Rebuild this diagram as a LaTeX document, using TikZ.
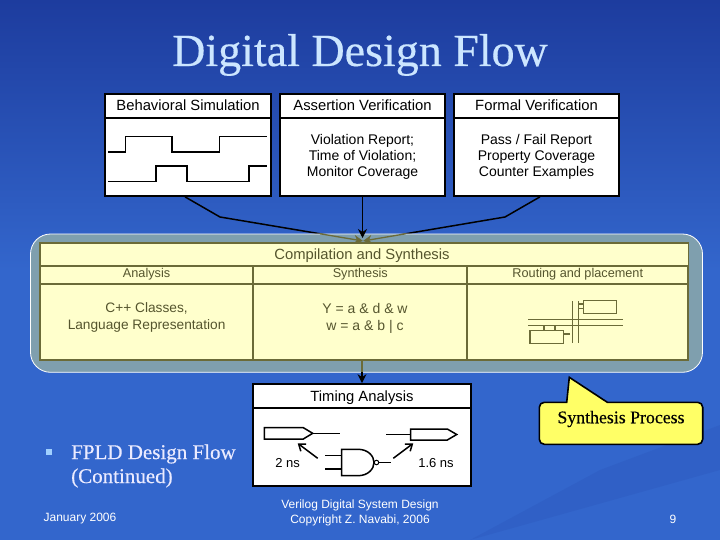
\documentclass[tikz,border=0pt]{standalone}
\usepackage{fontspec}
\setmainfont{Liberation Sans}
\newfontfamily\serifface{Liberation Serif}
\newfontfamily\boldface[FakeBold=0.35]{Liberation Serif}
\usepackage{tikz}
\usetikzlibrary{arrows.meta,calc}
\definecolor{slideblue}{HTML}{3366CC}
\definecolor{slidetop}{HTML}{1D3C9E}
\definecolor{framegray}{HTML}{7F9FAE}
\definecolor{cellyellow}{HTML}{FFFFCC}
\definecolor{cellline}{HTML}{6B6B38}
\definecolor{celltext}{HTML}{55552E}
\definecolor{titleblue}{HTML}{CCE6FF}
\definecolor{bulletblue}{HTML}{A0D0FF}
\definecolor{calloutyellow}{HTML}{FFFF66}

\begin{document}
\begin{tikzpicture}[x=1pt,y=-1pt,
  wbox/.style={rectangle, draw=black, line width=1.7pt, fill=white, inner sep=0pt, minimum width=#1, align=center},
  thead/.style={wbox=#1, minimum height=24pt, text height=13pt, text depth=3pt, font=\fontsize{14.8}{16}\selectfont},
  tbody/.style={wbox=#1, minimum height=78pt, font=\fontsize{14}{16.3}\selectfont},
  cell/.style={rectangle, draw=cellline, line width=1.9pt, fill=cellyellow, text=celltext, inner sep=0pt, minimum width=#1, align=center},
  cellhead/.style={cell=#1, minimum height=18pt, font=\fontsize{12.7}{14}\selectfont},
  celltxt/.style={inner sep=0pt, text=celltext, align=center, font=\fontsize{13.7}{16.3}\selectfont},
  arr/.style={-{Stealth[length=9pt,width=9pt]}, line width=1.3pt, black},
  wire/.style={line width=1.5pt, black},
  route/.style={line width=1.2pt, cellline},
  slidetext/.style={inner sep=0pt, text=white, align=center, font=\fontsize{12}{14.5}\selectfont}
]
  \useasboundingbox (0,0) rectangle (720,540);
  % slide background
  \shade[top color=slidetop, bottom color=slideblue] (0,0) rectangle (720,270);
  \fill[slideblue] (0,270) rectangle (720,540);
  \fill[slidetop, opacity=0.12] (470,540) -- (720,470) -- (720,425) -- (600,470) -- cycle;

  \node[inner sep=0pt, text=titleblue, font=\boldface\fontsize{46}{48}\selectfont] (title) at (360,55) {Digital Design Flow};

  % top row
  \node[thead=166pt] (behavh) at (188,106) {Behavioral Simulation};
  \node[tbody=166pt] (behav) at (188,157) {};
  \node[thead=165pt] (asserth) at (362.5,106) {Assertion Verification};
  \node[tbody=165pt] (assert) at (362.5,157) {Violation Report;\\Time of Violation;\\Monitor Coverage};
  \node[thead=165pt] (formalh) at (536.5,106) {Formal Verification};
  \node[tbody=165pt] (formal) at (536.5,157) {Pass / Fail Report\\Property Coverage\\Counter Examples};

  % waveforms
  \draw[wire] (108.4,151.9) -- (125.3,151.9) -- (125.3,136.4) -- (172,136.4) -- (172,151.9) -- (219.6,151.9) -- (219.6,136.4) -- (267,136.4);
  \draw[wire] (108.4,181.3) -- (156,181.3) -- (156,166) -- (187.2,166) -- (187.2,181.3) -- (249,181.3) -- (249,166) -- (267,166);

  % connectors go under the frame
  \coordinate (bendl) at (220,217);
  \coordinate (bendr) at (505,217);
  \coordinate (join) at (363,241);
  \coordinate (framebot) at (362,372);
  \draw[wire] ([xshift=-3pt]behav.south) -- (bendl) -- (join);
  \draw[wire] ([xshift=3.5pt]formal.south) -- (bendr) -- (join);

  % compilation frame
  \fill[framegray, rounded corners=20pt] (30.5,234) rectangle (702.5,372.3);
  \draw[white, line width=0.8pt, rounded corners=20pt] (30.5,234) rectangle (702.5,372.3);
  \draw[arr, cellline] ($(bendl)!0.7!(join)$) -- (join);
  \draw[arr, cellline] ($(bendr)!0.7!(join)$) -- (join);
  \draw[arr] (assert.south) -- (362.5,238);

  \node[cell=648.5pt, minimum height=23pt] (comp) at (364.2,254.2) {};
  \node[inner sep=0pt, text=celltext, font=\fontsize{14.8}{16}\selectfont] (comptxt) at (362,255.5) {Compilation and Synthesis};
  \node[cellhead=213.3pt] (anah) at (146.6,274.7) {Analysis};
  \node[cellhead=214pt] (synh) at (360.3,274.7) {Synthesis};
  \node[cellhead=221pt] (routh) at (577.8,274.7) {Routing and placement};
  \node[cell=213.3pt, minimum height=76.3pt] (ana) at (146.6,321.9) {};
  \node[cell=214pt, minimum height=76.3pt] (syn) at (360.3,321.9) {};
  \node[cell=221pt, minimum height=76.3pt] (rout) at (577.8,321.9) {};
  \node[celltxt] (anatxt) at (146.6,317.5) {C++ Classes,\\Language Representation};
  \node[celltxt, font=\fontsize{14}{16.3}\selectfont] (syntxt) at (365,318.5) {Y = a \& d \& w\\w = a \& b | c};

  % placement sketch
  \draw[route] (583.3,300.7) rectangle (616.7,313.3);
  \draw[route] (530,330.3) rectangle (563.3,343.3);
  \draw[route] (528,319.3) -- (623.3,319.3);
  \draw[route] (528,325.7) -- (623.3,325.7);
  \draw[route] (572.3,301) -- (572.3,342.7);
  \draw[route] (578.7,301) -- (578.7,342.7);
  \draw[route] (578.7,304) -- (583.3,304);
  \draw[route] (578.7,308.3) -- (583.3,308.3);
  \draw[route] (544,325.7) -- (544,330.3);
  \draw[route] (555,325.7) -- (555,330.3);
  \draw[route] (563.3,334) -- (570,334);

  % timing box
  \node[thead=217.5pt] (timeh) at (362,396) {Timing Analysis};
  \node[wbox=217.5pt, minimum height=77.6pt] (timeb) at (362,447) {};
  \draw[line width=1.3pt, cellline] ([xshift=1.7pt]syn.south) -- (framebot);
  \draw[arr] (framebot) -- (timeh.north);

  \draw[wire] (264.3,427.7) -- (303.3,427.7) -- (312.7,433.3) -- (303.3,439) -- (264.3,439) -- cycle;
  \draw[wire] (312.7,433.3) -- (340,433.3);
  \draw[wire] (410.7,429) -- (447.3,429) -- (456.7,434.5) -- (447.3,440) -- (410.7,440) -- cycle;
  \draw[wire] (386,434.5) -- (410.7,434.5);
  \draw[wire] (325,455.7) -- (341.7,455.7);
  \draw[wire] (325,469) -- (341.7,469);
  \draw[wire] (341.7,449.3) -- (358,449.3) .. controls (368,449.3) and (374,456) .. (374,462.5) .. controls (374,469) and (368,475.7) .. (358,475.7) -- (341.7,475.7) -- cycle;
  \node[circle, draw=black, line width=1pt, fill=white, inner sep=0pt, minimum size=4.5pt] (bubble) at (376.5,462.5) {};
  \draw[wire] (bubble.east) -- (391,462.5);
  \draw[-{Straight Barb[length=6pt,width=9pt]}, wire] (317.7,458.3) -- (297.7,443.3);
  \draw[-{Straight Barb[length=6pt,width=9pt]}, wire] (393.3,458.3) -- (413.3,443.3);
  \node[inner sep=0pt, font=\fontsize{13}{15}\selectfont] (delayl) at (287.7,463.3) {2 ns};
  \node[inner sep=0pt, font=\fontsize{13}{15}\selectfont] (delayr) at (436,462.7) {1.6 ns};

  % callout
  \draw[line width=1.6pt, fill=calloutyellow]
    (539.3,423) [rounded corners=5pt] -- (539.3,402.3) [sharp corners] -- (566.7,402.3) -- (569.3,377.3) -- (607.3,402.3) [rounded corners=5pt] -- (702.7,402.3) -- (702.7,444.3) -- (539.3,444.3) -- cycle;
  \node[inner sep=0pt, font=\boldface\fontsize{17.8}{20}\selectfont] (callout) at (621,419) {Synthesis Process};

  % body text and footer
  \fill[bulletblue] (45.5,448.5) rectangle (51.5,455);
  \node[inner sep=0pt, anchor=west, text=white!92!blue, align=left, font=\boldface\fontsize{21}{24}\selectfont] (bullet) at (71,466) {FPLD Design Flow\\(Continued)};
  \node[slidetext] (date) at (80,519) {January 2006};
  \node[slidetext] (course) at (360,513) {Verilog Digital System Design\\Copyright Z. Navabi, 2006};
  \node[slidetext] (page) at (673,519) {9};
\end{tikzpicture}
\end{document}
